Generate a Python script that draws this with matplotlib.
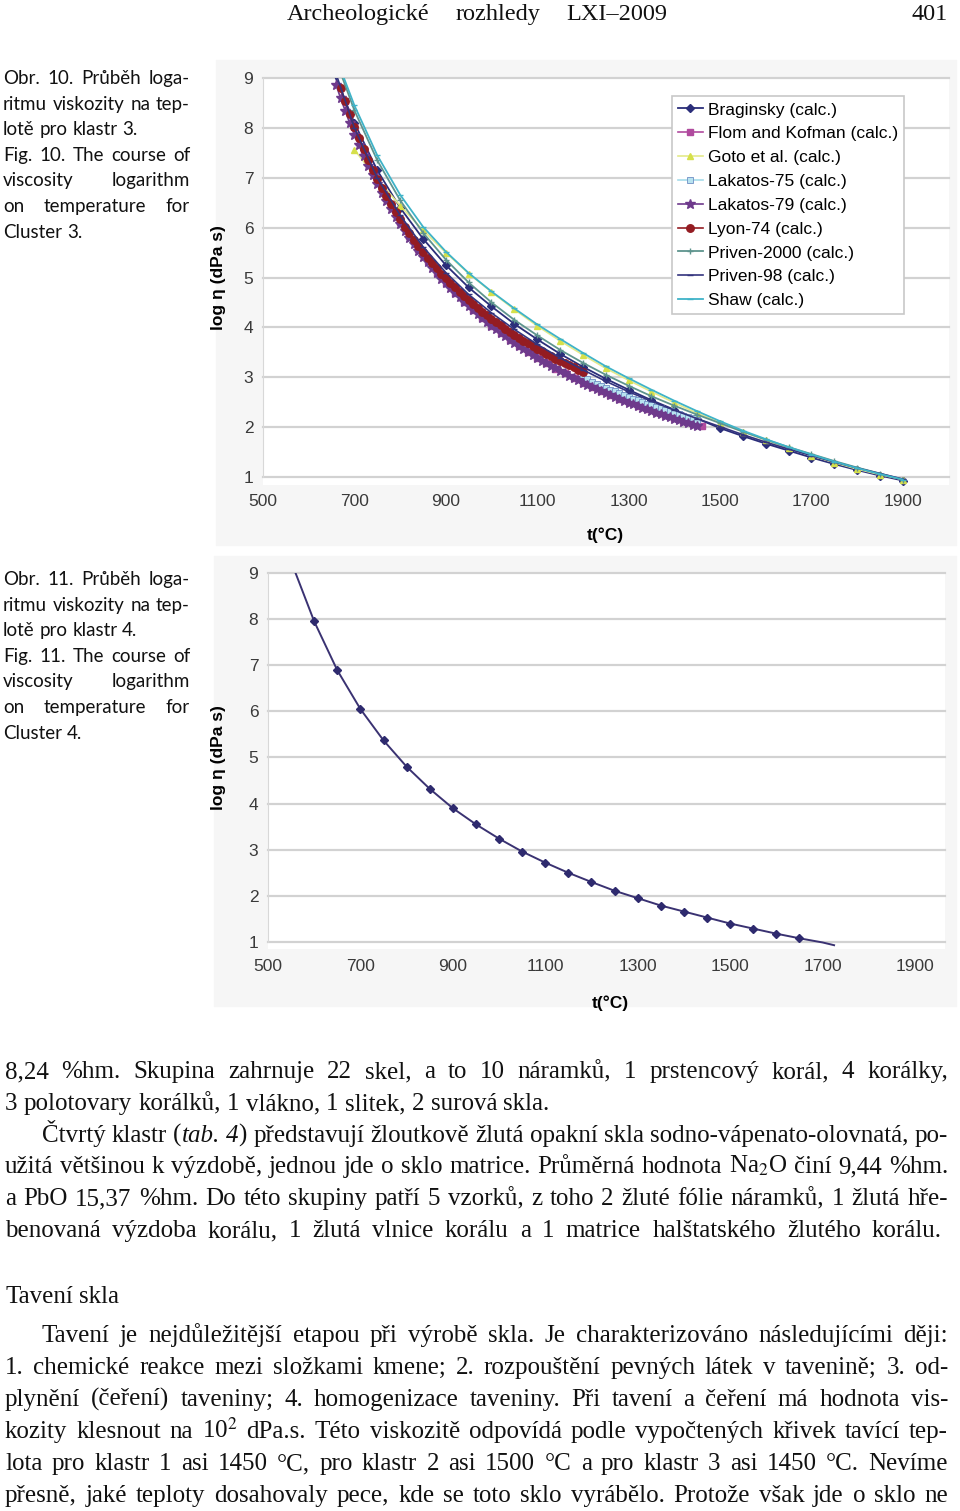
import matplotlib
matplotlib.use('Agg')
import matplotlib.pyplot as plt

# ---- chart 1 : cluster 3, nine viscosity models ----
braginsky_t = list(range(650, 1901, 50))
braginsky = [9.20, 8.10, 7.15, 6.40, 5.78, 5.25, 4.80, 4.42, 4.07, 3.76, 3.47, 3.21, 2.97,
             2.75, 2.54, 2.35, 2.17, 1.98, 1.82, 1.67, 1.53, 1.39, 1.26, 1.14, 1.03, 0.93]

flom_t = list(range(680, 1461, 20))
flom = [8.53, 8.02, 7.56, 7.15, 6.77, 6.43, 6.12, 5.83, 5.57, 5.33, 5.10, 4.89, 4.69, 4.51,
        4.34, 4.18, 4.03, 3.88, 3.75, 3.62, 3.50, 3.39, 3.28, 3.17, 3.08, 2.98, 2.89, 2.81,
        2.73, 2.65, 2.57, 2.50, 2.43, 2.37, 2.30, 2.24, 2.18, 2.13, 2.07, 2.02]

goto_t = list(range(700, 1901, 50))
goto = [7.56, 6.98, 6.44, 5.95, 5.50, 5.08, 4.71, 4.36, 4.03, 3.73, 3.45, 3.18, 2.94,
        2.71, 2.49, 2.28, 2.09, 1.91, 1.74, 1.58, 1.43, 1.29, 1.16, 1.05, 0.95]

lak75_t = list(range(1200, 1451, 10))
lak75 = [3.00, 2.96, 2.91, 2.87, 2.83, 2.79, 2.75, 2.72, 2.68, 2.64, 2.61, 2.57, 2.54,
         2.50, 2.47, 2.44, 2.41, 2.38, 2.35, 2.32, 2.29, 2.26, 2.23, 2.20, 2.18, 2.15]

lak79_t = list(range(660, 1451, 10))
lak79 = [8.86, 8.59, 8.34, 8.09, 7.86, 7.65, 7.44, 7.24, 7.05, 6.87,
         6.70, 6.53, 6.37, 6.22, 6.07, 5.93, 5.80, 5.67, 5.54, 5.42,
         5.31, 5.19, 5.09, 4.98, 4.88, 4.78, 4.69, 4.60, 4.51, 4.42,
         4.34, 4.26, 4.18, 4.10, 4.03, 3.96, 3.89, 3.82, 3.75, 3.69,
         3.62, 3.56, 3.50, 3.44, 3.39, 3.33, 3.28, 3.23, 3.18, 3.12,
         3.08, 3.03, 2.98, 2.94, 2.89, 2.85, 2.80, 2.76, 2.72, 2.68,
         2.64, 2.60, 2.57, 2.53, 2.49, 2.46, 2.42, 2.39, 2.36, 2.32,
         2.29, 2.26, 2.23, 2.20, 2.17, 2.14, 2.11, 2.08, 2.05, 2.03]

lyon_t = list(range(670, 1201, 10))
lyon = [8.80, 8.53, 8.27, 8.02, 7.79, 7.57, 7.36, 7.16, 6.98, 6.80,
        6.63, 6.47, 6.31, 6.17, 6.02, 5.89, 5.76, 5.64, 5.52, 5.40,
        5.29, 5.19, 5.08, 4.99, 4.89, 4.80, 4.71, 4.63, 4.54, 4.46,
        4.39, 4.31, 4.24, 4.17, 4.10, 4.04, 3.97, 3.91, 3.85, 3.79,
        3.73, 3.68, 3.62, 3.57, 3.52, 3.47, 3.42, 3.37, 3.33, 3.28,
        3.24, 3.20, 3.15, 3.11]

priven2000_t = list(range(650, 1901, 50))
priven2000 = [9.60, 8.35, 7.35, 6.55, 5.90, 5.36, 4.90, 4.50, 4.15, 3.84, 3.55, 3.29, 3.05,
              2.83, 2.62, 2.43, 2.25, 2.08, 1.91, 1.75, 1.60, 1.46, 1.32, 1.19, 1.07, 0.95]

priven98_t = list(range(650, 1901, 50))
priven98 = [9.35, 8.00, 7.00, 6.25, 5.62, 5.10, 4.66, 4.29, 3.96, 3.66, 3.39, 3.15, 2.92,
            2.71, 2.52, 2.34, 2.17, 2.01, 1.85, 1.70, 1.56, 1.43, 1.30, 1.18, 1.07, 0.96]

shaw_t = list(range(650, 1901, 50))
shaw = [9.65, 8.45, 7.45, 6.66, 6.02, 5.52, 5.09, 4.72, 4.38, 4.06, 3.77, 3.49, 3.22,
        2.98, 2.75, 2.53, 2.32, 2.12, 1.93, 1.76, 1.60, 1.45, 1.31, 1.18, 1.06, 0.95]

# ---- chart 2 : cluster 4 ----
c4_line_t = [550, 600, 650, 700, 750, 800, 850, 900, 950, 1000, 1050, 1100, 1150, 1200,
             1250, 1300, 1350, 1400, 1450, 1500, 1550, 1600, 1650, 1700, 1725]
c4_line = [9.25, 7.95, 6.89, 6.05, 5.37, 4.80, 4.32, 3.90, 3.55, 3.24, 2.96, 2.72, 2.50, 2.30,
           2.11, 1.95, 1.79, 1.66, 1.53, 1.40, 1.29, 1.18, 1.08, 0.99, 0.93]
c4_t = list(range(600, 1651, 50))
c4 = [7.95, 6.89, 6.05, 5.37, 4.80, 4.32, 3.90, 3.55, 3.24, 2.96, 2.72, 2.50, 2.30, 2.11,
      1.95, 1.79, 1.66, 1.53, 1.40, 1.29, 1.18, 1.08]

xticks = [500, 700, 900, 1100, 1300, 1500, 1700, 1900]
yticks = [1, 2, 3, 4, 5, 6, 7, 8, 9]

W, H = 960, 1511
SERIF = 'Liberation Serif'
SANS = 'Liberation Sans'
CAP = 'Lato'
plt.rcParams['mathtext.fontset'] = 'stix'

fig = plt.figure(figsize=(W / 100, H / 100), dpi=100)
fig.patch.set_facecolor('white')
renderer = fig.canvas.get_renderer()


def px_axes(left, top, right, bottom):
    return fig.add_axes([left / W, 1 - bottom / H, (right - left) / W, (bottom - top) / H])


def style_chart(ax, xmax):
    ax.set_xlim(500, xmax)
    ax.set_ylim(0.85, 9)
    for s in ['top', 'right', 'bottom']:
        ax.spines[s].set_visible(False)
    ax.spines['left'].set_color('#d8d8d8')
    ax.spines['left'].set_bounds(1, 9)
    for y in yticks:
        ax.axhline(y, color='#d2d2d2', lw=1.6, zorder=0, clip_on=False)
    ax.set_xticks(xticks)
    ax.set_yticks(yticks)
    ax.tick_params(length=0, labelsize=12.5, colors='#3a3a3a', pad=7)
    for lab in ax.get_xticklabels() + ax.get_yticklabels():
        lab.set_family(SANS)


# chart backgrounds (scan is slightly grey round the plot)
for (l, t, r, b) in [(216, 60, 956, 545), (214, 556, 956, 1006)]:
    fig.patches.append(plt.Rectangle((l / W, 1 - b / H), (r - l) / W, (b - t) / H,
                                     transform=fig.transFigure, color='#f6f6f6', zorder=-5))

ax1 = px_axes(263, 78, 948.5, 484.5)
style_chart(ax1, 2000)
ax1.plot(braginsky_t, braginsky, color='#2b2e7a', lw=1.3, marker='D', ms=3.6, label='Braginsky (calc.)')
ax1.plot(flom_t, flom, color='#b04a9e', lw=1.2, marker='s', ms=4.6, label='Flom and Kofman (calc.)')
ax1.plot(goto_t, goto, color='#e4ea8a', lw=1.2, marker='^', ms=3.8, mfc='#d6e04a', mec='#d6e04a',
         label='Goto et al. (calc.)')
ax1.plot(lak75_t, lak75, color='#a6dbea', lw=1.2, marker='s', ms=4.6, mfc='#b8e3f0', mec='#6f8fc4',
         mew=0.6, label='Lakatos-75 (calc.)')
ax1.plot(lak79_t, lak79, color='#6e3a8c', lw=1.2, marker='*', ms=7.5, label='Lakatos-79 (calc.)')
ax1.plot(lyon_t, lyon, color='#941c22', lw=1.2, marker='o', ms=5.4, label='Lyon-74 (calc.)')
ax1.plot(priven2000_t, priven2000, color='#5e948e', lw=1.3, marker='+', ms=4,
         label='Priven-2000 (calc.)')
ax1.plot(priven98_t, priven98, color='#34347e', lw=1.2, marker='_', ms=4, label='Priven-98 (calc.)')
ax1.plot(shaw_t, shaw, color='#3fb3c8', lw=1.3, marker='_', ms=4, label='Shaw (calc.)')
leg = ax1.legend(loc='upper right', bbox_to_anchor=(0.935, 0.955), borderaxespad=0,
                 prop={'family': SANS, 'size': 12.5}, handlelength=1.4, handletextpad=0.3,
                 labelspacing=0.5, borderpad=0.35, fancybox=False, framealpha=1)
leg.get_frame().set_edgecolor('#c8c8c8')
leg.get_frame().set_linewidth(1.2)
ax1.set_xlabel('t(°C)', family=SANS, weight='bold', fontsize=12.5)
ax1.xaxis.set_label_coords(0.499, -0.105)
ax1.set_ylabel('log η (dPa s)', family=SANS, weight='bold', fontsize=12.5)
ax1.yaxis.set_label_coords(-0.054, 0.508)

ax2 = px_axes(268, 573, 945, 948.9)
style_chart(ax2, 1965)
ax2.plot(c4_line_t, c4_line, color='#3a3272', lw=1.4)
ax2.plot(c4_t, c4, ls='none', marker='D', ms=4.2, color='#2e2a6e')
ax2.set_xlabel('t(°C)', family=SANS, weight='bold', fontsize=12.5)
ax2.xaxis.set_label_coords(0.505, -0.123)
ax2.set_ylabel('log η (dPa s)', family=SANS, weight='bold', fontsize=12.5)
ax2.yaxis.set_label_coords(-0.062, 0.51)


# ---- page text ----
def width(txt, size, family, style='normal'):
    t = fig.text(0, 0, txt, fontsize=size, family=family, style=style)
    w = t.get_window_extent(renderer).width
    t.remove()
    return w


def put_line(text, x0, x1, base, size, family, justify=True, styled=None):
    styled = styled or {}
    tokens = [styled.get(w, [(w, 'normal')]) for w in text.split()]
    widths = [sum(width(s, size, family, st) for s, st in tok) for tok in tokens]
    if justify and len(tokens) > 1:
        gap = (x1 - x0 - sum(widths)) / (len(tokens) - 1)
    else:
        gap = width('a a', size, family) - width('aa', size, family)
    x = x0
    for tok, w in zip(tokens, widths):
        xx = x
        for s, st in tok:
            fig.text(xx / W, 1 - base / H, s, fontsize=size, family=family, style=st,
                     va='baseline', ha='left', color='#111111')
            xx += width(s, size, family, st)
        x += w + gap


# header
put_line('Archeologické rozhledy LXI–2009', 287, 667, 20, 17.5, SERIF)
fig.text(948 / W, 1 - 20 / H, '401', fontsize=17.5, family=SERIF, ha='right', va='baseline',
         color='#111111')

# captions
cap1 = [('Obr. 10. Průběh loga-', True), ('ritmu viskozity na tep-', True),
        ('lotě pro klastr 3.', False), ('Fig. 10. The course of', True),
        ('viscosity logarithm', True), ('on temperature for', True), ('Cluster 3.', False)]
cap2 = [('Obr. 11. Průběh loga-', True), ('ritmu viskozity na tep-', True),
        ('lotě pro klastr 4.', False), ('Fig. 11. The course of', True),
        ('viscosity logarithm', True), ('on temperature for', True), ('Cluster 4.', False)]
for lines, top in [(cap1, 84), (cap2, 585)]:
    for i, (txt, j) in enumerate(lines):
        put_line(txt, 3, 190, top + i * 25.6, 13.5, CAP, justify=j)

# body text
italic = {'(tab.': [('(', 'normal'), ('tab.', 'italic')], '4)': [('4', 'italic'), (')', 'normal')]}
body = [
    (5, 948, 1078, '8,24 %hm. Skupina zahrnuje 22 skel, a to 10 náramků, 1 prstencový korál, 4 korálky,', True),
    (5, 948, 1110, '3 polotovary korálků, 1 vlákno, 1 slitek, 2 surová skla.', False),
    (42, 948, 1142, 'Čtvrtý klastr (tab. 4) představují žloutkově žlutá opakní skla sodno-vápenato-olovnatá, po-', True),
    (5, 948, 1173, 'užitá většinou k výzdobě, jednou jde o sklo matrice. Průměrná hodnota Na$_2$O činí 9,44 %hm.', True),
    (5, 948, 1205, 'a PbO 15,37 %hm. Do této skupiny patří 5 vzorků, z toho 2 žluté fólie náramků, 1 žlutá hře-', True),
    (5, 942, 1237, 'benovaná výzdoba korálu, 1 žlutá vlnice korálu a 1 matrice halštatského žlutého korálu.', True),
    (5, 948, 1303, 'Tavení skla', False),
    (42, 948, 1342, 'Tavení je nejdůležitější etapou při výrobě skla. Je charakterizováno následujícími ději:', True),
    (5, 948, 1374, '1. chemické reakce mezi složkami kmene; 2. rozpouštění pevných látek v tavenině; 3. od-', True),
    (5, 948, 1406, 'plynění (čeření) taveniny; 4. homogenizace taveniny. Při tavení a čeření má hodnota vis-', True),
    (5, 948, 1438, 'kozity klesnout na 10$^2$ dPa.s. Této viskozitě odpovídá podle vypočtených křivek tavící tep-', True),
    (5, 948, 1470, 'lota pro klastr 1 asi 1450 °C, pro klastr 2 asi 1500 °C a pro klastr 3 asi 1450 °C. Nevíme', True),
    (5, 948, 1502, 'přesně, jaké teploty dosahovaly pece, kde se toto sklo vyrábělo. Protože však jde o sklo ne', True),
]
for x0, x1, base, txt, j in body:
    put_line(txt, x0, x1, base, 18, SERIF, justify=j, styled=italic)

fig.savefig('out.png', dpi=100, facecolor='white')
